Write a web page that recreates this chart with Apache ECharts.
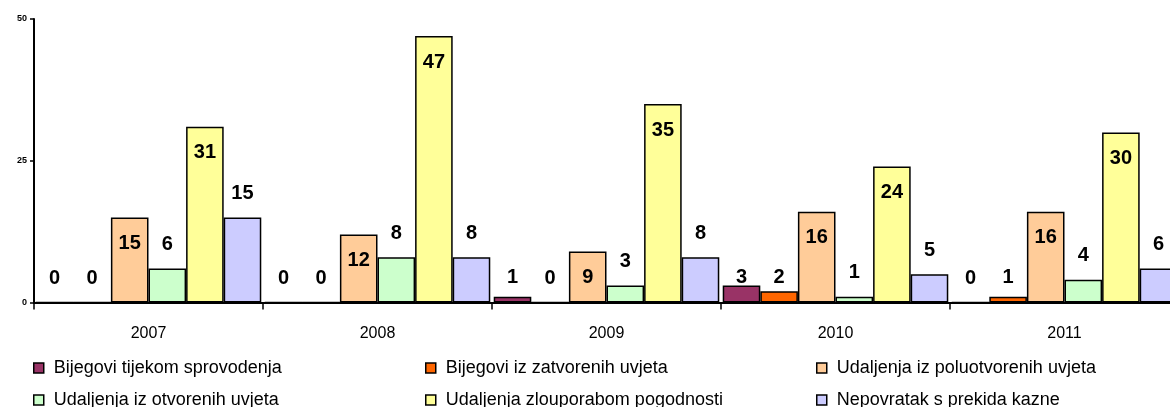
<!DOCTYPE html>
<html>
<head>
<meta charset="utf-8">
<script src="https://cdn.jsdelivr.net/npm/echarts@6/dist/echarts.min.js"></script>
<style>
  html, body { margin: 0; padding: 0; background: #fff; overflow: hidden; }
  /* the plot runs slightly past the right edge of the window */
  #chart { width: 1180px; height: 407px; }
</style>
</head>
<body>
<div id="chart"></div>
<script>
// Years on the category axis
const categories = ['2007', '2008', '2009', '2010', '2011'];

// Series names (legend order)
const seriesNames = [
  'Bijegovi tijekom sprovodenja',
  'Bijegovi iz zatvorenih uvjeta',
  'Udaljenja iz poluotvorenih uvjeta',
  'Udaljenja iz otvorenih uvjeta',
  'Udaljenja zlouporabom pogodnosti',
  'Nepovratak s prekida kazne'
];

// Counts per year
const bijegoviSprovodenje = [0, 0, 1, 3, 0];
const bijegoviZatvoreni   = [0, 0, 0, 2, 1];
const udaljenjaPoluotvoreni = [15, 12, 9, 16, 16];
const udaljenjaOtvoreni   = [6, 8, 3, 1, 4];
const udaljenjaZlouporaba = [31, 47, 35, 24, 30];
const nepovratak          = [15, 8, 8, 5, 6];

// Value axis ticks
const yTicks = [0, 25, 50];

const seriesValues = [
  bijegoviSprovodenje, bijegoviZatvoreni, udaljenjaPoluotvoreni,
  udaljenjaOtvoreni, udaljenjaZlouporaba, nepovratak
];
const colors = ['#993366', '#FF6600', '#FFCC99', '#CCFFCC', '#FFFF99', '#CCCCFF'];

// Where each series puts its value label
const labelPlacement = [
  { position: 'insideBottom', distance: 15 },
  { position: 'insideBottom', distance: 15 },
  { position: 'insideTop', distance: 16 },
  { position: 'top', distance: 14 },
  { position: 'insideTop', distance: 16 },
  { position: 'top', distance: 14 }
];

const FONT = '"Liberation Sans", Arial, sans-serif';

const series = seriesNames.map((name, i) => ({
  name: name,
  type: 'bar',
  data: seriesValues[i],
  barGap: '0%',
  barCategoryGap: '1.5%',
  itemStyle: { color: colors[i], borderColor: '#000', borderWidth: 1.5 },
  label: {
    show: true,
    position: labelPlacement[i].position,
    distance: labelPlacement[i].distance,
    formatter: '{c}',
    color: '#000',
    fontFamily: FONT,
    fontSize: 20,
    fontWeight: 'bold'
  },
  emphasis: { disabled: true },
  animation: false
}));

// Legend: three columns, two rows
const legendCols = [33, 425, 816];
const legendRows = [359, 391];
const legends = seriesNames.map((name, i) => ({
  data: [name],
  left: legendCols[i % 3],
  top: legendRows[Math.floor(i / 3)],
  padding: 0,
  itemWidth: 10,
  itemHeight: 10,
  selectedMode: false,
  icon: 'rect',
  itemStyle: { color: colors[i], borderColor: '#000', borderWidth: 1.5 },
  textStyle: {
    fontFamily: FONT,
    fontSize: 18,
    color: '#000',
    padding: [0, 0, 0, 5]
  }
}));

const chart = echarts.init(document.getElementById('chart'), null, { renderer: 'canvas' });
chart.setOption({
  backgroundColor: '#fff',
  animation: false,
  legend: legends,
  grid: { left: 34, top: 19, width: 1145, height: 283.5, containLabel: false },
  xAxis: {
    type: 'category',
    data: categories,
    boundaryGap: true,
    axisLine: { show: true, lineStyle: { color: '#000', width: 2 } },
    axisTick: { show: true, alignWithLabel: false, length: 7, lineStyle: { color: '#000', width: 1.5 } },
    axisLabel: { color: '#000', fontFamily: FONT, fontSize: 16, margin: 23 },
    splitLine: { show: false }
  },
  yAxis: {
    type: 'value',
    min: yTicks[0],
    max: yTicks[yTicks.length - 1],
    interval: yTicks[1] - yTicks[0],
    axisLine: { show: true, lineStyle: { color: '#000', width: 2 } },
    axisTick: { show: true, length: 4, lineStyle: { color: '#000', width: 1.5 } },
    axisLabel: { color: '#000', fontFamily: FONT, fontSize: 9, fontWeight: 'bold', margin: 7 },
    splitLine: { show: false }
  },
  series: series
});
</script>
</body>
</html>
